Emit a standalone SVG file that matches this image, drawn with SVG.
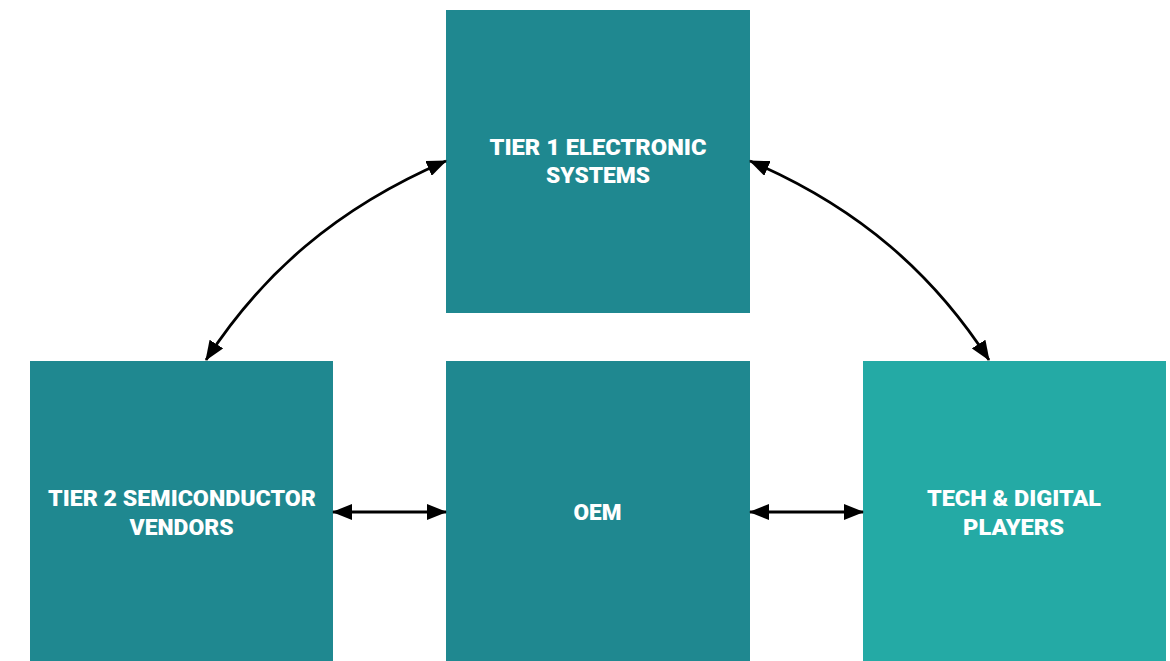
<svg xmlns="http://www.w3.org/2000/svg" width="1170" height="661" viewBox="0 0 1170 661">
<defs>
<style>
.box{fill:#1f8890}
.box2{fill:#24aaa5}
.lbl{font-family:"Roboto","Liberation Sans",sans-serif;font-weight:900;font-size:22px;fill:#ffffff;text-anchor:middle}
.con{fill:none;stroke:#000;stroke-width:2.8}
</style>
<marker id="ah" viewBox="0 0 20 16" refX="19" refY="8" markerWidth="20" markerHeight="16" markerUnits="userSpaceOnUse" orient="auto-start-reverse">
<path d="M0,0 L20,8 L0,16 z" fill="#000"/>
</marker>
</defs>
<rect width="1170" height="661" fill="#fff"/>
<g id="tier1">
<rect class="box" x="446" y="10" width="304" height="303"/>
<text class="lbl" x="598" y="155" textLength="217" lengthAdjust="spacingAndGlyphs">TIER 1 ELECTRONIC</text>
<text class="lbl" x="598" y="183" textLength="104" lengthAdjust="spacingAndGlyphs">SYSTEMS</text>
</g>
<g id="tier2">
<rect class="box" x="30" y="361" width="303" height="300"/>
<text class="lbl" x="182" y="506" textLength="268" lengthAdjust="spacingAndGlyphs">TIER 2 SEMICONDUCTOR</text>
<text class="lbl" x="181.5" y="535" textLength="104" lengthAdjust="spacingAndGlyphs">VENDORS</text>
</g>
<g id="oem">
<rect class="box" x="446" y="361" width="304" height="300"/>
<text class="lbl" x="597.5" y="520" textLength="48" lengthAdjust="spacingAndGlyphs">OEM</text>
</g>
<g id="tech">
<rect class="box2" x="863" y="361" width="303" height="300"/>
<text class="lbl" x="1014" y="506" textLength="174" lengthAdjust="spacingAndGlyphs">TECH &amp; DIGITAL</text>
<text class="lbl" x="1013.5" y="535" textLength="101" lengthAdjust="spacingAndGlyphs">PLAYERS</text>
</g>
<g id="connectors">
<path class="con" d="M206,360 C261,275 336,208 446,161" marker-start="url(#ah)" marker-end="url(#ah)"/>
<path class="con" d="M750,161 C860,208 934,275 989,360" marker-start="url(#ah)" marker-end="url(#ah)"/>
<path class="con" d="M333,512 L446,512" marker-start="url(#ah)" marker-end="url(#ah)"/>
<path class="con" d="M750,512 L863,512" marker-start="url(#ah)" marker-end="url(#ah)"/>
</g>
</svg>
